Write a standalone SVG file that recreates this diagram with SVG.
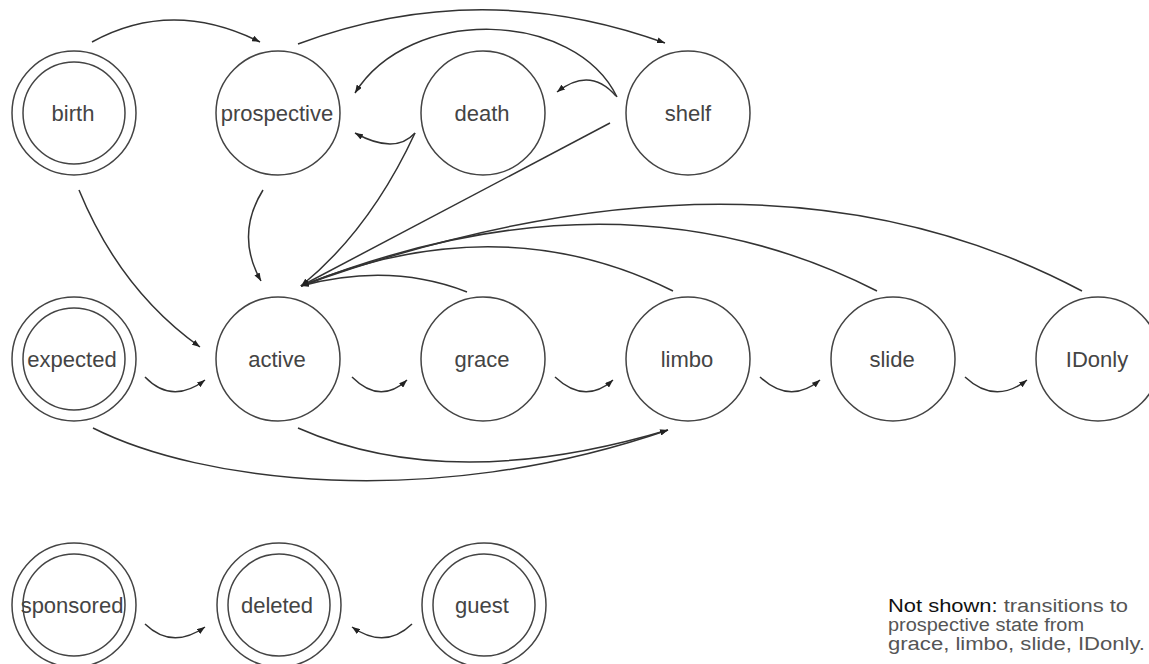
<svg xmlns="http://www.w3.org/2000/svg" width="1149" height="664" viewBox="0 0 1149 664">
<style>
.st{fill:#fff;stroke:#444;stroke-width:1.5}
.lbl{font-family:"Liberation Sans",Arial,sans-serif;font-size:22px;fill:#444;text-anchor:middle}
.e{fill:none;stroke:#333;stroke-width:1.5;marker-end:url(#ah)}
.note{font-family:"Liberation Sans",Arial,sans-serif;font-size:18px;fill:#555}
</style>
<defs>
<marker id="ah" viewBox="0 0 8 6" refX="8" refY="3" markerWidth="8" markerHeight="6" markerUnits="userSpaceOnUse" orient="auto">
<path d="M0,0 L8,3 L0,6 z" fill="#222"/>
</marker>
</defs>
<rect width="1149" height="664" fill="#fff"/>
<g id="connectors">
<path class="e" d="M92,42 Q172,-2 260,42"/>
<path class="e" d="M298,44 Q480,-24 665,43"/>
<path class="e" d="M617,97 C575,10 410,5 355,93"/>
<path class="e" d="M616,96 Q590,66 557,92"/>
<path class="e" d="M415,133 Q395,155 355,133"/>
<path class="e" d="M415,133 Q370,230 301,286"/>
<path class="e" d="M610,123 L301,286"/>
<path class="e" d="M263,190 Q235,235 261,281"/>
<path class="e" d="M79,190 Q120,290 200,347"/>
<path class="e" d="M145,377 Q172,405 205,380"/>
<path class="e" d="M352,377 Q380,405 407,380"/>
<path class="e" d="M555,377 Q585,405 613,380"/>
<path class="e" d="M760,377 Q790,405 820,380"/>
<path class="e" d="M965,377 Q995,405 1027,380"/>
<path class="e" d="M93,428 C200,482 430,512 668,430"/>
<path class="e" d="M298,428 Q450,495 668,430"/>
<path class="e" d="M467,292 Q390,262 301,286"/>
<path class="e" d="M673,291 Q500,205 301,286"/>
<path class="e" d="M877,291 Q620,160 301,286"/>
<path class="e" d="M1082,291 Q760,120 301,286"/>
<path class="e" d="M145,624 Q172,650 205,627"/>
<path class="e" d="M412,624 Q385,650 352,627"/>
</g>
<g id="birth"><circle class="st" cx="74" cy="113" r="62"/><circle class="st" cx="74" cy="113" r="51"/><text class="lbl" x="73" y="121">birth</text></g>
<g id="prospective"><circle class="st" cx="278" cy="113" r="62"/><text class="lbl" x="277" y="121">prospective</text></g>
<g id="death"><circle class="st" cx="483" cy="113" r="62"/><text class="lbl" x="482" y="121">death</text></g>
<g id="shelf"><circle class="st" cx="688" cy="113" r="62"/><text class="lbl" x="688" y="121">shelf</text></g>
<g id="expected"><circle class="st" cx="74" cy="359" r="62"/><circle class="st" cx="74" cy="359" r="51"/><text class="lbl" x="72" y="367">expected</text></g>
<g id="active"><circle class="st" cx="278" cy="359" r="62"/><text class="lbl" x="277" y="367">active</text></g>
<g id="grace"><circle class="st" cx="483" cy="359" r="62"/><text class="lbl" x="482" y="367">grace</text></g>
<g id="limbo"><circle class="st" cx="688" cy="359" r="62"/><text class="lbl" x="687" y="367">limbo</text></g>
<g id="slide"><circle class="st" cx="893" cy="359" r="62"/><text class="lbl" x="892" y="367">slide</text></g>
<g id="IDonly"><circle class="st" cx="1098" cy="359" r="62"/><text class="lbl" x="1097" y="367">IDonly</text></g>
<g id="sponsored"><circle class="st" cx="74" cy="605" r="62"/><circle class="st" cx="74" cy="605" r="51"/><text class="lbl" x="72" y="613">sponsored</text></g>
<g id="deleted"><circle class="st" cx="279" cy="605" r="62"/><circle class="st" cx="279" cy="605" r="51"/><text class="lbl" x="277" y="613">deleted</text></g>
<g id="guest"><circle class="st" cx="484" cy="605" r="62"/><circle class="st" cx="484" cy="605" r="51"/><text class="lbl" x="482" y="613">guest</text></g>
<g id="note">
<text class="note" x="888" y="612" textLength="240" lengthAdjust="spacingAndGlyphs"><tspan fill="#111">Not shown:</tspan> transitions to</text>
<text class="note" x="888" y="631" textLength="196" lengthAdjust="spacingAndGlyphs">prospective state from</text>
<text class="note" x="888" y="650" textLength="257" lengthAdjust="spacingAndGlyphs">grace, limbo, slide, IDonly.</text>
</g>
</svg>
